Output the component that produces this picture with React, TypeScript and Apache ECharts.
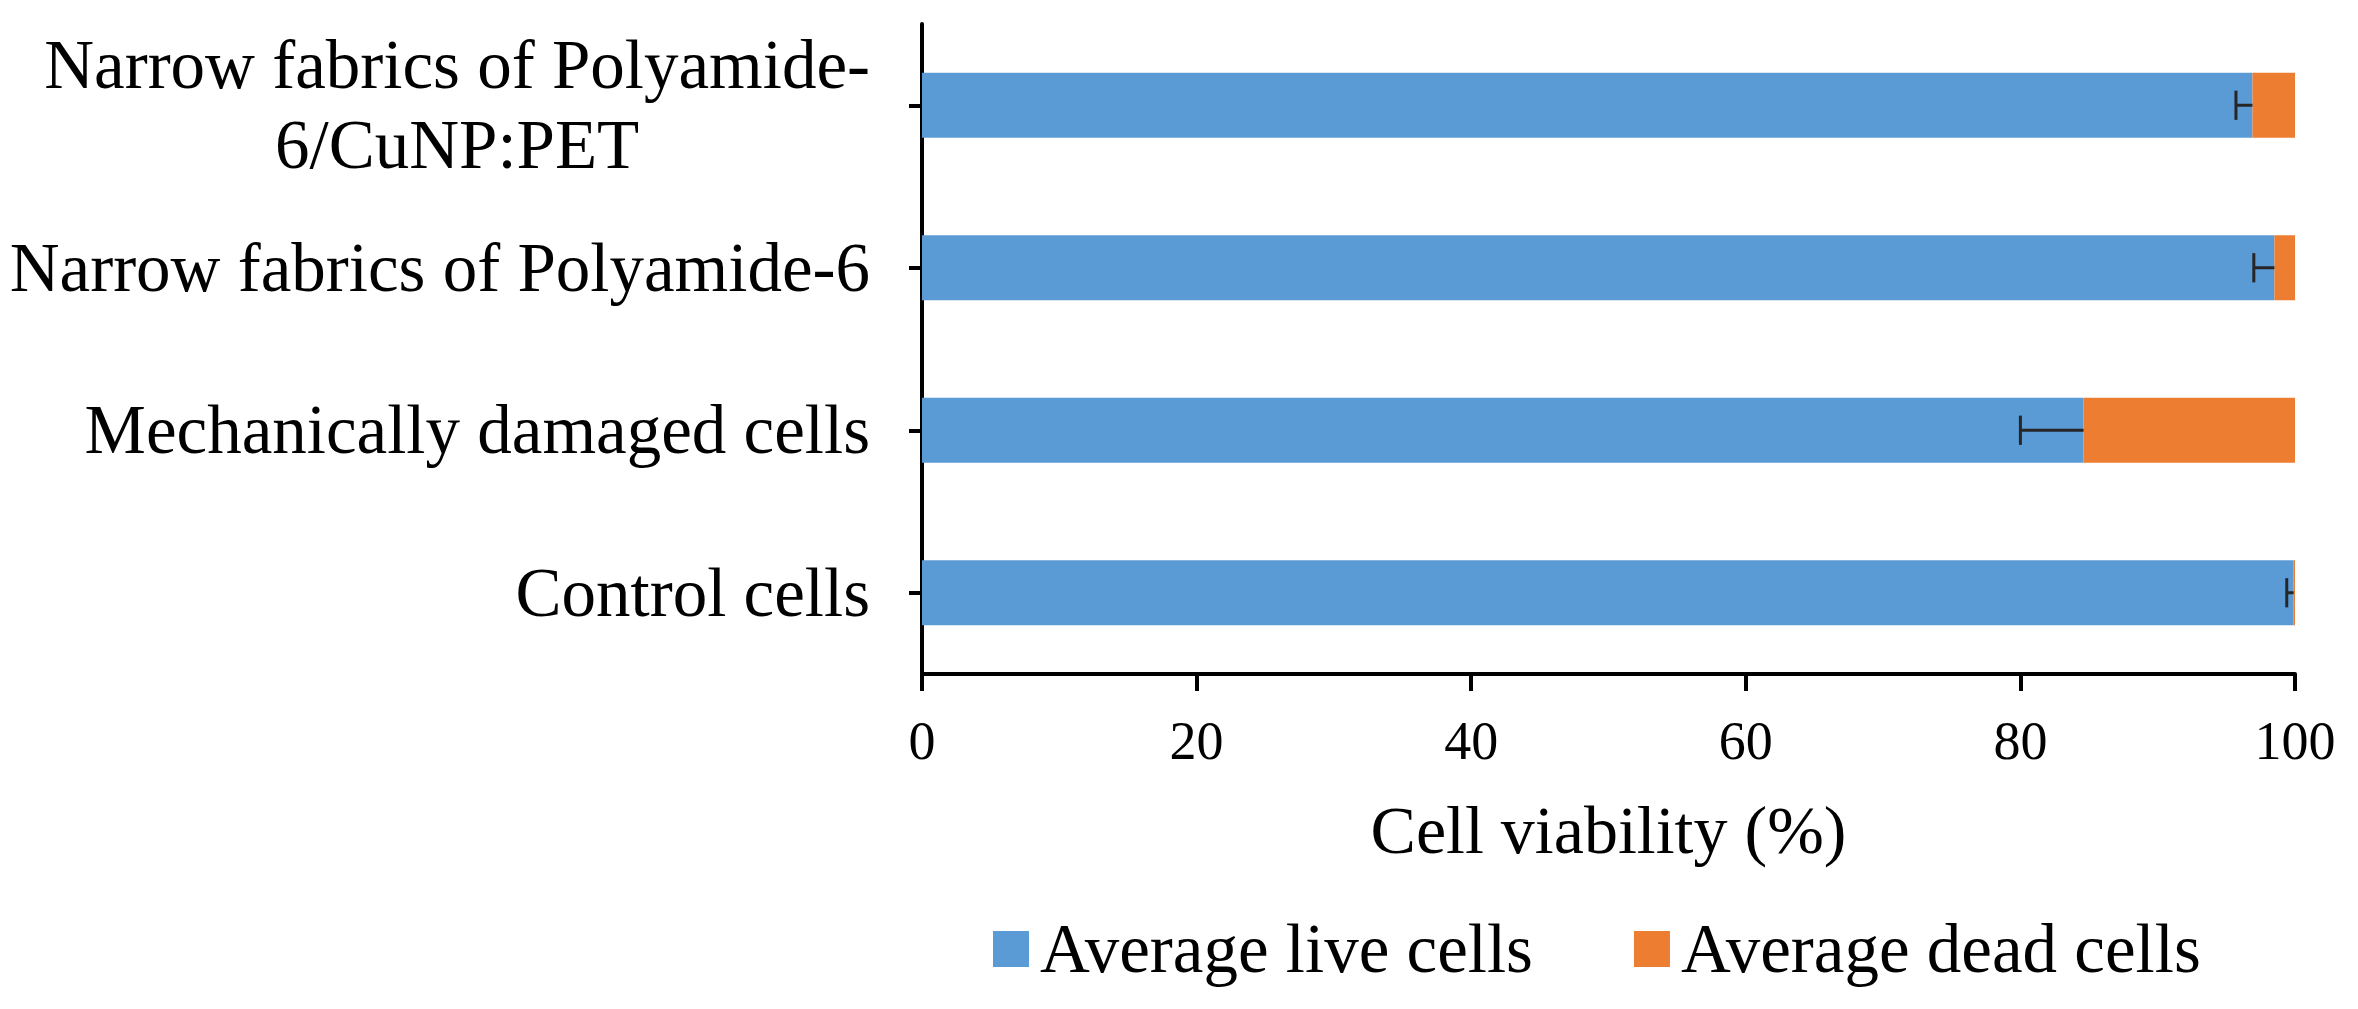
import React, { useEffect, useRef } from "react";
import * as echarts from "echarts";

const categories = [
  "Control cells",
  "Mechanically damaged cells",
  "Narrow fabrics of Polyamide-6",
  "Narrow fabrics of Polyamide-\n6/CuNP:PET",
];
const liveCells = [99.9, 84.6, 98.5, 96.9];
const deadCells = [0.1, 15.4, 1.5, 3.1];
const liveErrors = [0.5, 4.6, 1.5, 1.2];
const xTicks = { min: 0, max: 100, interval: 20 };

const FONT = '"Times New Roman", "Liberation Serif", serif';

export default function App() {
  const ref = useRef<HTMLDivElement>(null);
  useEffect(() => {
    if (!ref.current) return;
    const chart = echarts.init(ref.current, undefined, { renderer: "svg" });
    const errData = categories.map((_, i) => [i, liveCells[i] - liveErrors[i], liveCells[i]]);
    chart.setOption({
      animation: false,
      backgroundColor: "#ffffff",
      grid: { left: 922, right: 63, top: 24, bottom: 335, containLabel: false },
      legend: {
        data: ["Average live cells", "Average dead cells"],
        left: 988,
        top: 908,
        icon: "rect",
        itemWidth: 36,
        itemHeight: 36,
        itemGap: 101,
        textStyle: { fontFamily: FONT, fontSize: 69, color: "#000", lineHeight: 72, padding: [0, 0, 0, 6] },
      },
      xAxis: {
        type: "value",
        min: xTicks.min,
        max: xTicks.max,
        interval: xTicks.interval,
        name: "Cell viability (%)",
        nameLocation: "middle",
        nameGap: 122,
        nameTextStyle: { fontFamily: FONT, fontSize: 68, color: "#000" },
        axisLine: { show: true, lineStyle: { color: "#000", width: 4 } },
        axisTick: { show: true, length: 17, lineStyle: { color: "#000", width: 4 } },
        axisLabel: { fontFamily: FONT, fontSize: 54, color: "#000", margin: 40 },
        splitLine: { show: false },
      },
      yAxis: {
        type: "category",
        data: categories,
        axisLine: { show: true, lineStyle: { color: "#000", width: 4 } },
        axisTick: { show: true, alignWithLabel: true, length: 13, lineStyle: { color: "#000", width: 4 } },
        axisLabel: {
          fontFamily: FONT,
          fontSize: 69,
          color: "#000",
          margin: 52,
          lineHeight: 80,
          formatter: (v: string) =>
            v
              .split("\n")
              .map((s) => "{c|" + s + "}")
              .join("\n"),
          rich: {
            c: { align: "center", fontFamily: FONT, fontSize: 69, color: "#000", lineHeight: 80 },
          },
        },
      },
      series: [
        {
          name: "Average live cells",
          type: "bar",
          stack: "total",
          barWidth: "40%",
          data: liveCells,
          itemStyle: { color: "#5B9BD5" },
        },
        {
          name: "Average dead cells",
          type: "bar",
          stack: "total",
          barWidth: "40%",
          data: deadCells,
          itemStyle: { color: "#ED7D31" },
        },
        {
          type: "custom",
          z: 10,
          encode: { x: [1, 2], y: 0 },
          data: errData,
          renderItem: (params: any, api: any) => {
            const cat = api.value(0);
            const lo = api.value(1);
            const hi = api.value(2);
            const p1 = api.coord([lo, cat]);
            const p2 = api.coord([hi, cat]);
            const half = api.size([0, 1])[1] * 0.09;
            const style = { stroke: "#262626", lineWidth: 3 };
            return {
              type: "group",
              children: [
                { type: "line", shape: { x1: p1[0], y1: p1[1], x2: p2[0], y2: p2[1] }, style },
                { type: "line", shape: { x1: p1[0], y1: p1[1] - half, x2: p1[0], y2: p1[1] + half }, style },
              ],
            };
          },
        },
      ],
    });
    return () => chart.dispose();
  }, []);
  return (
    <div
      ref={ref}
      style={{ position: "fixed", left: 0, top: 0, width: 2358, height: 1009, background: "#fff" }}
    />
  );
}
